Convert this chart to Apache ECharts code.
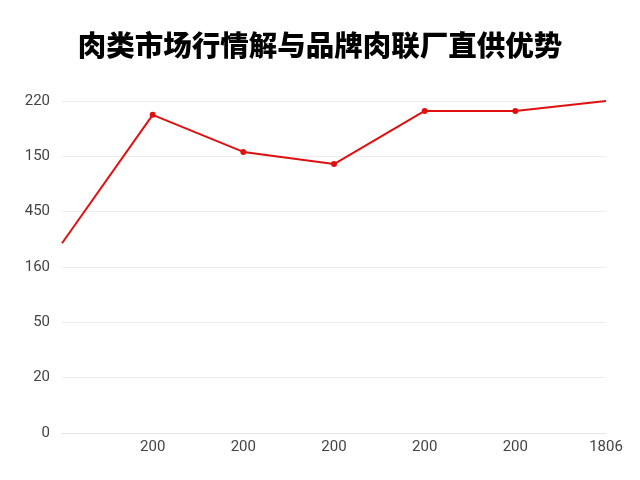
<!DOCTYPE html>
<html>
<head>
<meta charset="utf-8">
<script src="https://cdn.jsdelivr.net/npm/echarts@6/dist/echarts.min.js"></script>
<style>html,body{margin:0;padding:0;background:#fff}#c{width:640px;height:480px}</style>
</head>
<body>
<div id="c"></div>
<script>
var titleText = '肉类市场行情解与品牌肉联厂直供优势';
var categories = ['', '200', '200', '200', '200', '200', '1806'];
var yTickLabels = ['0', '20', '50', '160', '450', '150', '220'];
var values = [3.43, 5.75, 5.08, 4.86, 5.82, 5.82, 6.0];
var hideSymbolAt = [0, 6];

var chart = echarts.init(document.getElementById('c'));
chart.setOption({
  backgroundColor: '#ffffff',
  animation: false,
  title: {
    text: titleText,
    left: 'center',
    top: 26,
    textStyle: { fontSize: 28.5, fontWeight: 900, color: '#000', fontFamily: 'Noto Sans CJK SC' }
  },
  grid: { left: 62, right: 34, top: 101, bottom: 47 },
  xAxis: {
    type: 'category',
    data: categories,
    boundaryGap: false,
    axisLine: { show: true, lineStyle: { color: '#e6e6e6' } },
    axisTick: { show: false },
    axisLabel: { color: '#444', fontSize: 15, margin: 7, fontFamily: 'Roboto' },
    splitLine: { show: false }
  },
  yAxis: {
    type: 'value',
    min: 0, max: 6, interval: 1,
    axisLine: { show: false },
    axisTick: { show: false },
    axisLabel: {
      color: '#444', fontSize: 15, margin: 12, fontFamily: 'Roboto',
      formatter: function (v) { return yTickLabels[Math.round(v)]; }
    },
    splitLine: { lineStyle: { color: '#ececec' } }
  },
  series: [{
    type: 'line',
    data: values.map(function (v, i) {
      return hideSymbolAt.indexOf(i) >= 0 ? { value: v, symbol: 'none' } : v;
    }),
    symbol: 'circle',
    symbolSize: 6,
    showAllSymbol: true,
    lineStyle: { color: '#e01010', width: 2 },
    itemStyle: { color: '#e01010' }
  }]
});
</script>
</body>
</html>
